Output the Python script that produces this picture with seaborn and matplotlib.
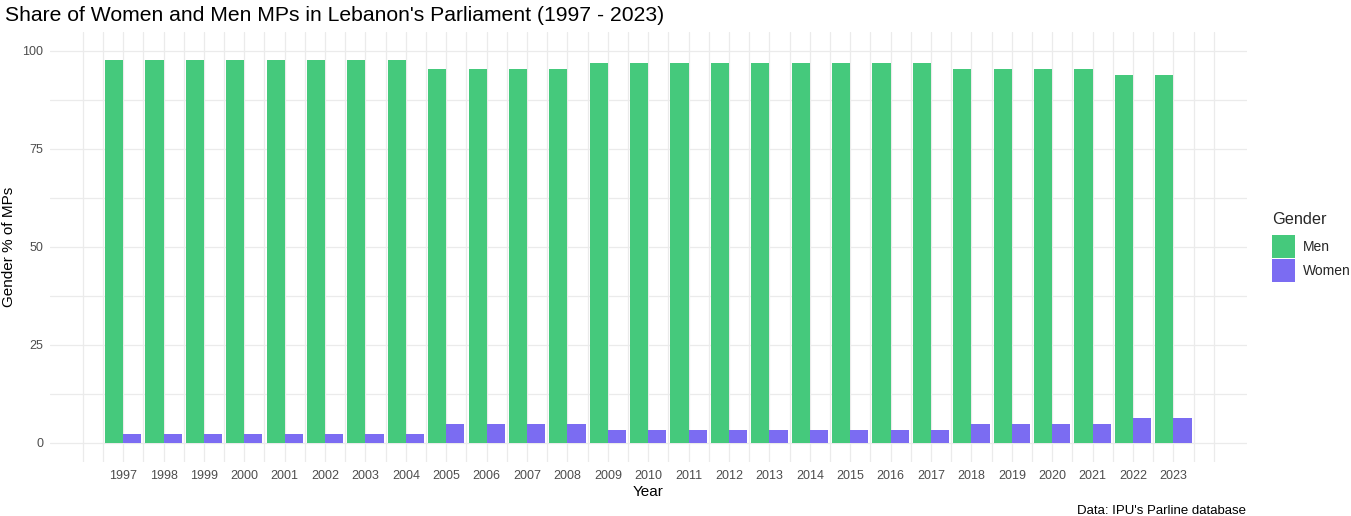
import numpy as np
import pandas as pd
import matplotlib
matplotlib.use("Agg")
import matplotlib.pyplot as plt
import seaborn as sns
from matplotlib.patches import Patch

years = [1997, 1998, 1999, 2000, 2001, 2002, 2003, 2004, 2005, 2006, 2007, 2008, 2009,
         2010, 2011, 2012, 2013, 2014, 2015, 2016, 2017, 2018, 2019, 2020, 2021, 2022, 2023]
men = [97.7, 97.7, 97.7, 97.7, 97.7, 97.7, 97.7, 97.7, 95.3, 95.3, 95.3, 95.3, 96.9,
       96.9, 96.9, 96.9, 96.9, 96.9, 96.9, 96.9, 96.9, 95.3, 95.3, 95.3, 95.3, 93.8, 93.8]
women = [2.3, 2.3, 2.3, 2.3, 2.3, 2.3, 2.3, 2.3, 4.7, 4.7, 4.7, 4.7, 3.1,
         3.1, 3.1, 3.1, 3.1, 3.1, 3.1, 3.1, 3.1, 4.7, 4.7, 4.7, 4.7, 6.2, 6.2]
genders = ["Men", "Women"]
colors = {"Men": "#45C97C", "Women": "#7B6CF2"}

df = pd.DataFrame({
    "Year": years * 2,
    "Share": men + women,
    "Gender": ["Men"] * len(years) + ["Women"] * len(years),
})

sns.set_theme(style="white")
plt.rcParams["font.family"] = ["Liberation Sans", "DejaVu Sans"]

fig = plt.figure(figsize=(13.51, 5.16), dpi=100)
ax = fig.add_axes([0.037, 0.105, 0.886, 0.833])

sns.barplot(data=df, x="Year", y="Share", hue="Gender", hue_order=genders,
            palette=colors, native_scale=True, width=0.9, saturation=1,
            linewidth=0, edgecolor="none", ax=ax, legend=False)

ax.set_xlim(1995.19, 2024.82)
ax.set_ylim(-4.9, 104.8)
ax.set_xticks(years)
ax.set_xticklabels([str(y) for y in years])
ax.set_xticks(np.arange(1996, 2024.01, 0.5), minor=True)
ax.set_yticks([0, 25, 50, 75, 100])
ax.set_yticks([12.5, 37.5, 62.5, 87.5], minor=True)
ax.grid(True, which="both", color="#EBEBEB", linewidth=0.9)
ax.set_axisbelow(True)
for s in ax.spines.values():
    s.set_visible(False)
ax.tick_params(axis="both", which="both", length=0, colors="#4D4D4D", labelsize=9)
ax.tick_params(axis="x", pad=6)
ax.tick_params(axis="y", pad=5)

ax.set_xlabel("Year", fontsize=11, color="black", labelpad=2)
ax.set_ylabel("Gender % of MPs", fontsize=11, color="black", labelpad=4)

fig.text(0.004, 0.969, "Share of Women and Men MPs in Lebanon's Parliament (1997 - 2023)",
         fontsize=15.2, ha="left", va="center", color="black")
fig.text(0.922, -0.002, "Data: IPU's Parline database", fontsize=9.5, ha="right",
         va="bottom", color="black")

handles = [Patch(facecolor=colors[g], edgecolor="none", label=g) for g in genders]
leg = ax.legend(handles=handles, title="Gender", loc="upper left",
                bbox_to_anchor=(1.0163, 0.594), frameon=False, fontsize=10,
                title_fontsize=11.7, handlelength=1.65, handleheight=2.17,
                labelspacing=0.08, handletextpad=0.55, borderaxespad=0)
leg._legend_box.align = "left"
leg._legend_box.sep = 6

fig.savefig("out.png", dpi=100)
